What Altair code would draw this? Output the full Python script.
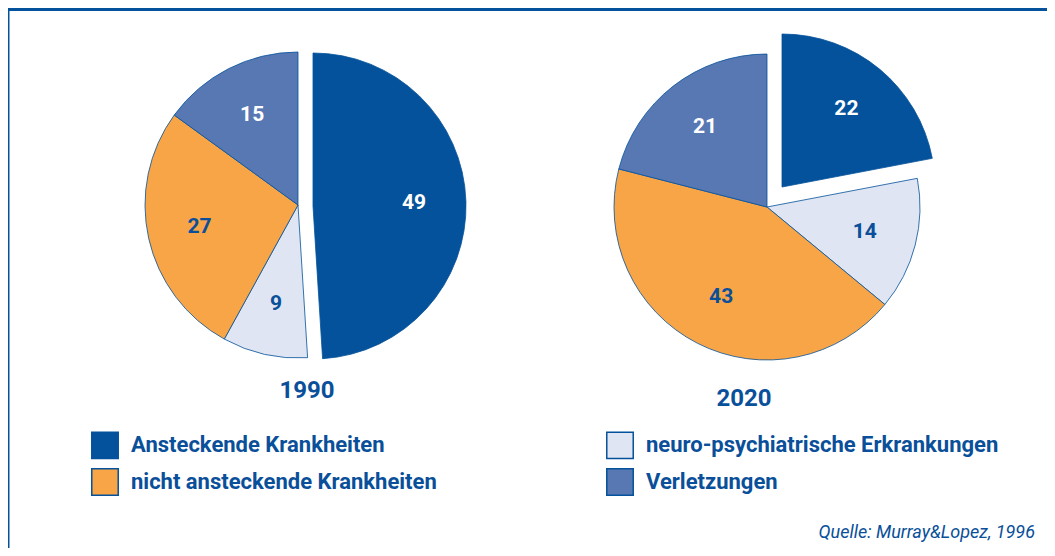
import altair as alt
import pandas as pd

categories = ["Ansteckende Krankheiten", "neuro-psychiatrische Erkrankungen",
              "nicht ansteckende Krankheiten", "Verletzungen"]
values_1990 = [49, 9, 27, 15]
values_2020 = [22, 14, 43, 21]
years = ["1990", "2020"]
exploded = "Ansteckende Krankheiten"
source_text = "Quelle: Murray&Lopez, 1996"
legend_order = ["Ansteckende Krankheiten", "nicht ansteckende Krankheiten",
                "neuro-psychiatrische Erkrankungen", "Verletzungen"]

colors = ["#04529b", "#dfe5f2", "#f8a548", "#5878b4"]
white_labels = ["Ansteckende Krankheiten", "Verletzungen"]

DARK = "#04529b"
TEXT = "#0a4f99"
FONT = "Roboto"
W, H = 1039, 540
R = 153


def make_df(vals):
    return pd.DataFrame({"cat": categories, "value": vals, "order": list(range(len(vals)))})


color_scale = alt.Scale(domain=categories, range=colors)


def pie_layers(df, cx, cy, dx, dy, show_legend):
    base = alt.Chart(df)
    theta = alt.Theta("value:Q", stack=True)
    order = alt.Order("order:Q")
    is_exp = alt.datum.cat == exploded
    legend = alt.Legend(title=None, values=legend_order) if show_legend else None
    col = alt.Color("cat:N", scale=color_scale, sort=categories, legend=legend)
    main = base.mark_arc(radius=R, stroke=DARK, strokeWidth=0.8).encode(
        theta=theta, order=order, color=col,
        opacity=alt.condition(is_exp, alt.value(0), alt.value(1)),
        x=alt.value(cx), y=alt.value(cy))
    exp = base.mark_arc(radius=R, stroke=DARK, strokeWidth=0.8).encode(
        theta=theta, order=order,
        color=alt.Color("cat:N", scale=color_scale, sort=categories, legend=None),
        opacity=alt.condition(is_exp, alt.value(1), alt.value(0)),
        x=alt.value(cx + dx), y=alt.value(cy + dy))
    tcolor = alt.condition(alt.FieldOneOfPredicate(field="cat", oneOf=white_labels),
                           alt.value("white"), alt.value(TEXT))
    lab_main = base.mark_text(radius=101, font=FONT, fontSize=21, fontWeight="bold").encode(
        theta=theta, order=order, text="value:Q", color=tcolor,
        opacity=alt.condition(is_exp, alt.value(0), alt.value(1)),
        x=alt.value(cx), y=alt.value(cy))
    lab_exp = base.mark_text(radius=101, font=FONT, fontSize=21, fontWeight="bold").encode(
        theta=theta, order=order, text="value:Q", color=tcolor,
        opacity=alt.condition(is_exp, alt.value(1), alt.value(0)),
        x=alt.value(cx + dx), y=alt.value(cy + dy))
    return [main, exp, lab_main, lab_exp]


df90 = make_df(values_1990)
df20 = make_df(values_2020)

layers = []
layers += pie_layers(df90, 290, 197, 15, 1, True)
layers += pie_layers(df20, 759, 199, 15, -20, False)

year_df = pd.DataFrame({"year": years})
y1990 = alt.Chart(year_df).transform_filter(alt.datum.year == "1990").mark_text(
    font=FONT, fontSize=24, fontWeight="bold", color=TEXT, align="center", baseline="alphabetic"
).encode(text="year:N", x=alt.value(299), y=alt.value(390))
y2020 = alt.Chart(year_df).transform_filter(alt.datum.year == "2020").mark_text(
    font=FONT, fontSize=24, fontWeight="bold", color=TEXT, align="center", baseline="alphabetic"
).encode(text="year:N", x=alt.value(736), y=alt.value(398))

src = alt.Chart(pd.DataFrame({"t": [source_text]})).mark_text(
    font=FONT, fontSize=18, fontStyle="italic", color=TEXT, align="right", baseline="alphabetic"
).encode(text="t:N", x=alt.value(1027), y=alt.value(530))

topbar = alt.Chart(pd.DataFrame({"a": [0]})).mark_rect(color="#04529b").encode(
    x=alt.value(0), x2=alt.value(W), y=alt.value(0), y2=alt.value(3))
leftline = alt.Chart(pd.DataFrame({"a": [0]})).mark_rule(color="#04529b", strokeWidth=1.5).encode(
    x=alt.value(0.75), y=alt.value(0), y2=alt.value(H))

chart = alt.layer(topbar, leftline, *layers, y1990, y2020, src).properties(
    width=W, height=H, autosize=alt.AutoSizeParams(type="none"), padding=0
).configure_view(stroke=None).configure_legend(
    orient="none", legendX=83, legendY=423, columns=2, columnPadding=166, rowPadding=3,
    symbolType="square", symbolSize=700, symbolStrokeColor=DARK, symbolStrokeWidth=1.5,
    labelFont=FONT, labelFontSize=22, labelFontWeight="bold", labelColor=TEXT,
    labelLimit=0, labelOffset=12, symbolOpacity=1
)

chart.save("out.html", embed_options={"renderer": "svg", "actions": False})
